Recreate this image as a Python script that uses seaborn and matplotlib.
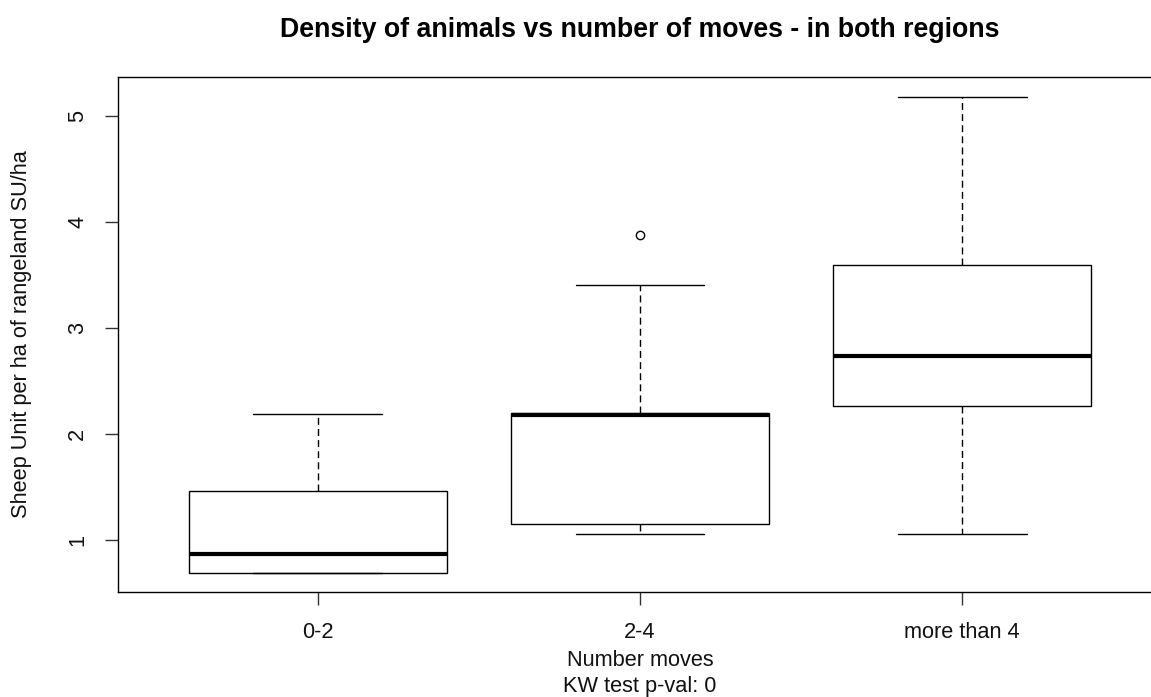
import numpy as np
import pandas as pd
import matplotlib
matplotlib.use("Agg")
import matplotlib.pyplot as plt
import seaborn as sns

# values (SU/ha per group)
groups = ["0-2", "2-4", "more than 4"]
moves_0_2 = [0.69, 0.69, 0.69, 0.78, 0.87, 1.10, 1.46, 1.85, 2.19]
moves_2_4 = [1.06, 1.10, 1.15, 1.70, 2.18, 2.19, 2.20, 3.41, 3.88]
moves_over_4 = [1.06, 1.80, 2.26, 2.50, 2.74, 3.20, 3.59, 4.40, 5.18]
y_ticks = [1, 2, 3, 4, 5]

df = pd.DataFrame({
    "moves": [groups[0]] * len(moves_0_2) + [groups[1]] * len(moves_2_4)
             + [groups[2]] * len(moves_over_4),
    "density": moves_0_2 + moves_2_4 + moves_over_4,
})

sns.set_style("white")
plt.rcParams["font.family"] = ["Liberation Sans", "DejaVu Sans"]

fig = plt.figure(figsize=(11.51, 6.97), dpi=100)
ax = fig.add_axes([0.1025, 0.1506, 0.907, 0.7389])

sns.boxplot(data=df, x="moves", y="density", order=groups, ax=ax,
            color="white", linecolor="black", linewidth=1, width=0.8,
            whis=1.5,
            medianprops=dict(color="black", linewidth=3),
            whiskerprops=dict(color="black", linewidth=1, linestyle=(0, (5, 3))),
            capprops=dict(color="black", linewidth=1),
            flierprops=dict(marker="o", markersize=6, markerfacecolor="none",
                            markeredgecolor="black", markeredgewidth=1))

ax.set_xlim(-0.62, 2.62)
ax.set_ylim(0.509, 5.368)
ax.set_yticks(y_ticks)
ax.set_yticklabels([str(v) for v in y_ticks], rotation=90, va="center")

for s in ax.spines.values():
    s.set_visible(True)
    s.set_color("black")
    s.set_linewidth(1)

ax.tick_params(axis="both", direction="out", length=9.5, width=1,
               color="#333333", pad=12, labelsize=15.7, labelcolor="#111111")
ax.tick_params(left=True, bottom=True)

ax.set_xlabel("Number moves\nKW test p-val: 0", fontsize=15.7, color="#111111",
              linespacing=1.3)
ax.xaxis.set_label_coords(0.5, -0.113)
ax.set_ylabel("Sheep Unit per ha of rangeland SU/ha", fontsize=15.7, color="#111111")
ax.yaxis.set_label_coords(-0.0824, 0.5)

ax.set_title("Density of animals vs number of moves - in both regions",
             fontsize=19.3, fontweight="bold", pad=29, color="black")

fig.savefig("out.png", dpi=100)
